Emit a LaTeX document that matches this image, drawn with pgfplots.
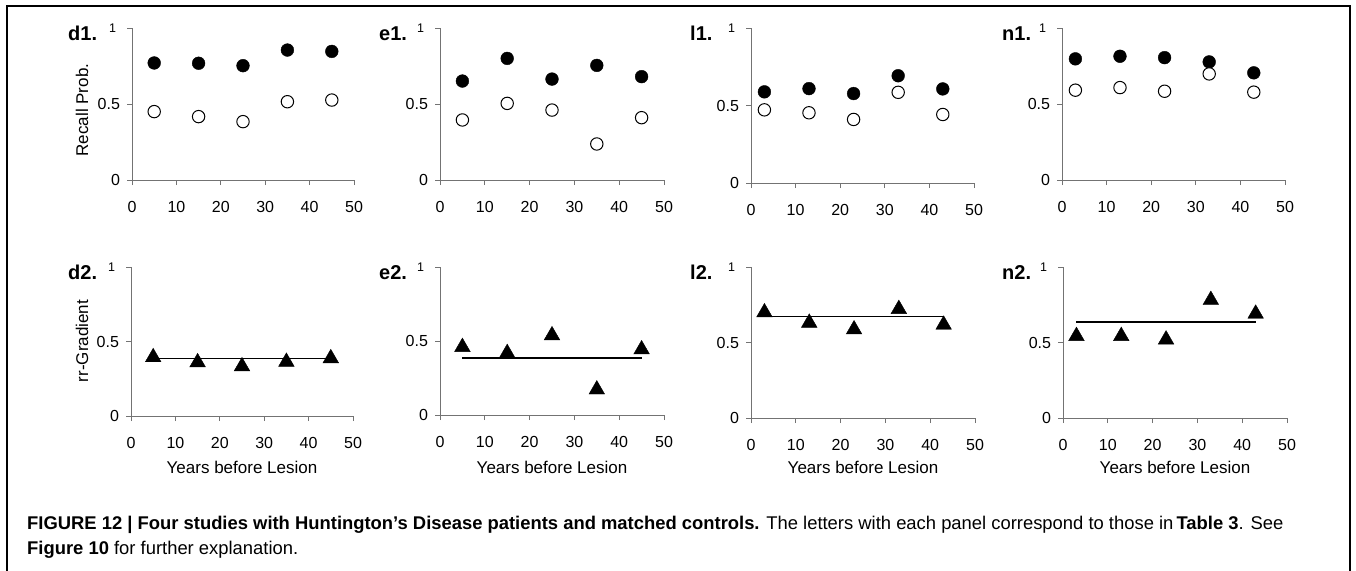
\documentclass[border=0pt]{standalone}
\usepackage{fontspec}
\setmainfont{Liberation Sans}
\usepackage{pgfplots}
\pgfplotsset{compat=1.18}

\pgfplotsset{
  panel/.style={
    scale only axis, width=222bp, height=152bp,
    xmin=0, xmax=50, ymin=0, ymax=1,
    axis x line*=bottom, axis y line*=left,
    axis line style={black!55, line width=0.8bp},
    xtick={0,10,20,30,40,50}, ytick={0,0.5,1},
    yticklabels={0,0.5,{\fontsize{12.5bp}{12.5bp}\selectfont 1\kern4bp}},
    tick align=outside, major tick length=5bp,
    tick style={black!55, line width=0.8bp},
    tick label style={font=\fontsize{16bp}{16bp}\selectfont},
    /pgf/number format/assume math mode=true,
    xticklabel style={yshift=-12.5bp},
    yticklabel style={xshift=-3.5bp},
    clip=false,
    anchor=south west,
  },
  filled/.style={only marks, mark=*, mark size=6.4bp, mark options={fill=black, draw=black}},
  open/.style={only marks, mark=*, mark size=6.2bp, mark options={fill=white, draw=black, line width=1bp}},
  tri/.style={only marks, mark=triangle*, mark size=9bp, mark options={fill=black, draw=black, yshift=-2.2bp}},
  mean/.style={black, line width=1.6bp, no marks},
}
\newcommand{\panelfont}{\fontsize{20bp}{20bp}\selectfont\bfseries}
\newcommand{\titlefont}{\fontsize{17bp}{17bp}\selectfont}
\newcommand{\capfont}{\fontsize{18.4bp}{24.7bp}\selectfont}

\begin{document}
\begin{tikzpicture}
\useasboundingbox (0,0) rectangle (1356bp,-571bp);
\draw[line width=1.2bp] (7bp,-575bp) -- (7bp,-6bp) -- (1350bp,-6bp) -- (1350bp,-575bp);

% ---------- top row ----------
\begin{axis}[panel, at={(132bp,-180bp)}]
\addplot[filled] coordinates {(5,0.77) (15,0.768) (25,0.752) (35,0.855) (45,0.846)};
\addplot[open] coordinates {(5,0.45) (15,0.417) (25,0.384) (35,0.515) (45,0.526)};
\end{axis}
\begin{axis}[panel, at={(440bp,-180bp)}, width=224bp]
\addplot[filled] coordinates {(5,0.651) (15,0.800) (25,0.664) (35,0.754) (45,0.680)};
\addplot[open] coordinates {(5,0.395) (15,0.504) (25,0.460) (35,0.237) (45,0.410)};
\end{axis}
\begin{axis}[panel, at={(751bp,-183bp)}, width=223bp, height=155bp]
\addplot[filled] coordinates {(3,0.588) (13,0.609) (23,0.577) (33,0.692) (43,0.607)};
\addplot[open] coordinates {(3,0.472) (13,0.453) (23,0.410) (33,0.585) (43,0.442)};
\end{axis}
\begin{axis}[panel, at={(1062bp,-180bp)}, width=223bp]
\addplot[filled] coordinates {(3,0.797) (13,0.814) (23,0.805) (33,0.777) (43,0.705)};
\addplot[open] coordinates {(3,0.591) (13,0.608) (23,0.584) (33,0.698) (43,0.578)};
\end{axis}

% ---------- bottom row ----------
\begin{axis}[panel, at={(131bp,-416bp)}, height=149bp]
\addplot[mean] coordinates {(5,0.387) (45,0.387)};
\addplot[tri] coordinates {(5,0.409) (15,0.375) (25,0.348) (35,0.378) (45,0.402)};
\end{axis}
\begin{axis}[panel, at={(440bp,-415bp)}, width=224bp, height=148bp]
\addplot[mean] coordinates {(5,0.385) (45,0.385)};
\addplot[tri] coordinates {(5,0.474) (15,0.433) (25,0.553) (35,0.187) (45,0.458)};
\end{axis}
\begin{axis}[panel, at={(751bp,-418bp)}, width=224bp, height=151bp]
\addplot[mean] coordinates {(3,0.672) (43,0.672)};
\addplot[tri] coordinates {(3,0.714) (13,0.645) (23,0.601) (33,0.736) (43,0.632)};
\end{axis}
\begin{axis}[panel, at={(1063bp,-418bp)}, width=224bp, height=151bp]
\addplot[mean] coordinates {(3,0.636) (43,0.636)};
\addplot[tri] coordinates {(3,0.557) (13,0.557) (23,0.534) (33,0.796) (43,0.705)};
\end{axis}

% ---------- panel labels ----------
\node[anchor=base west, inner sep=0, font=\panelfont] at (68bp,-40bp) {d1.};
\node[anchor=base west, inner sep=0, font=\panelfont] at (379bp,-40bp) {e1.};
\node[anchor=base west, inner sep=0, font=\panelfont] at (690bp,-40bp) {l1.};
\node[anchor=base west, inner sep=0, font=\panelfont] at (1002bp,-40bp) {n1.};
\node[anchor=base west, inner sep=0, font=\panelfont] at (68bp,-279bp) {d2.};
\node[anchor=base west, inner sep=0, font=\panelfont] at (379bp,-279bp) {e2.};
\node[anchor=base west, inner sep=0, font=\panelfont] at (690bp,-279bp) {l2.};
\node[anchor=base west, inner sep=0, font=\panelfont] at (1002bp,-279bp) {n2.};

% ---------- axis titles ----------
\node[rotate=90, inner sep=0, font=\titlefont] at (82bp,-110bp) {Recall Prob.};
\node[rotate=90, inner sep=0, font=\titlefont] at (82bp,-341bp) {rr-Gradient};
\node[inner sep=0, font=\titlefont] at (242bp,-467bp) {Years before Lesion};
\node[inner sep=0, font=\titlefont] at (552bp,-467bp) {Years before Lesion};
\node[inner sep=0, font=\titlefont] at (863bp,-467bp) {Years before Lesion};
\node[inner sep=0, font=\titlefont] at (1175bp,-467bp) {Years before Lesion};

% ---------- caption ----------
\node[anchor=base west, inner sep=0, font=\capfont] at (27bp,-529.5bp)
  {\textbf{FIGURE 12 | Four studies with Huntington’s Disease patients and matched controls.} The letters with each panel correspond to those in\,\textbf{Table 3}. See};
\node[anchor=base west, inner sep=0, font=\capfont] at (27bp,-554bp)
  {\textbf{Figure 10} for further explanation.};
\end{tikzpicture}
\end{document}
